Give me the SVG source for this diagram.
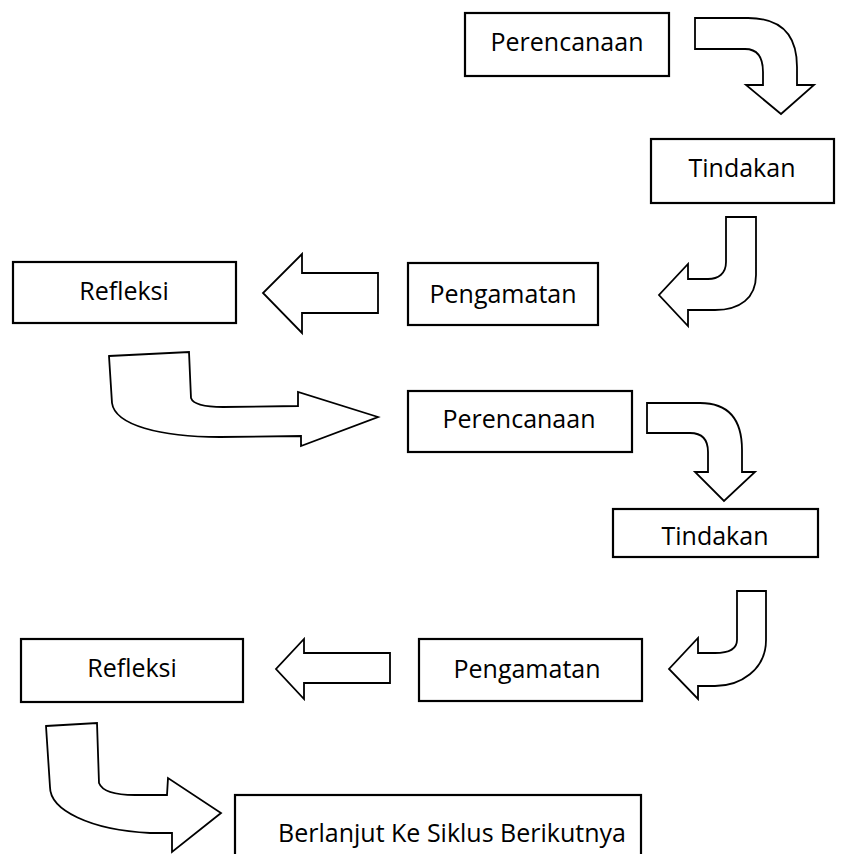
<svg xmlns="http://www.w3.org/2000/svg" width="846" height="854" viewBox="0 0 846 854">
<style>
.box{fill:#fff;stroke:#000;stroke-width:2.2}
.arr{fill:#fff;stroke:#000;stroke-width:1.8;stroke-linejoin:miter}
.t{font-family:"Open Sans","Liberation Sans",sans-serif;font-size:25px;fill:#000;text-anchor:middle}
</style>
<rect width="846" height="854" fill="#fff"/>
<g id="connectors">
<path class="arr" d="M695,18 L748,18 Q797,18 797,67 L797,85 L814,85 L781,114 L746,85 L763,85 L763,72 Q763,49 745,49 L695,49 Z"/>
<path class="arr" d="M726,217 L756,217 L756,275 C756,298 740,310 715,310 L688,310 L688,326 L659,295 L688,264 L688,279 L708,279 C718,279 726,274 726,262 Z"/>
<path class="arr" d="M378,273 L302,273 L302,254 L263,293 L302,333 L302,313 L378,313 Z"/>
<path class="arr" d="M109,356 L189,352 L191,398 C193,404 205,407 223,407 L298,406 L298,392 L378,417 L301,446 L301,436 L220,437 C160,437 115,425 112,403 Z"/>
<path class="arr" d="M647,403 L700,403 Q742,403 742,450 L742,472 L755,472 L724,501 L695,472 L708,472 L708,452 Q708,433 690,433 L647,433 Z"/>
<path class="arr" d="M737,591 L766,591 L766,640 C766,670 740,686 715,686 L698,686 L698,699 L669,669 L698,638 L698,653 L715,653 C730,653 737,648 737,640 Z"/>
<path class="arr" d="M390,653 L304,653 L304,639 L276,669 L304,699 L304,683 L390,683 Z"/>
<path class="arr" d="M46,726 L97,723 L99,783 C102,791 115,795 135,795 L167,795 L168,778 L221,813 L172,852 L172,833 L150,833 C90,830 50,810 50,787 Z"/>
</g>
<g id="perencanaan1"><rect class="box" x="465" y="13" width="204" height="63"/><text class="t" x="567" y="51">Perencanaan</text></g>
<g id="tindakan1"><rect class="box" x="651" y="139" width="183" height="64"/><text class="t" x="742" y="177">Tindakan</text></g>
<g id="pengamatan1"><rect class="box" x="408" y="263" width="190" height="62"/><text class="t" x="503" y="303">Pengamatan</text></g>
<g id="refleksi1"><rect class="box" x="13" y="262" width="223" height="61"/><text class="t" x="124" y="300">Refleksi</text></g>
<g id="perencanaan2"><rect class="box" x="408" y="391" width="224" height="61"/><text class="t" x="519" y="428">Perencanaan</text></g>
<g id="tindakan2"><rect class="box" x="613" y="509" width="205" height="48"/><text class="t" x="715" y="545">Tindakan</text></g>
<g id="pengamatan2"><rect class="box" x="419" y="639" width="223" height="62"/><text class="t" x="527" y="678">Pengamatan</text></g>
<g id="refleksi2"><rect class="box" x="21" y="639" width="222" height="63"/><text class="t" x="132" y="677">Refleksi</text></g>
<g id="berlanjut"><rect class="box" x="235" y="795" width="406" height="70"/><text class="t" x="452" y="842">Berlanjut Ke Siklus Berikutnya</text></g>
</svg>
